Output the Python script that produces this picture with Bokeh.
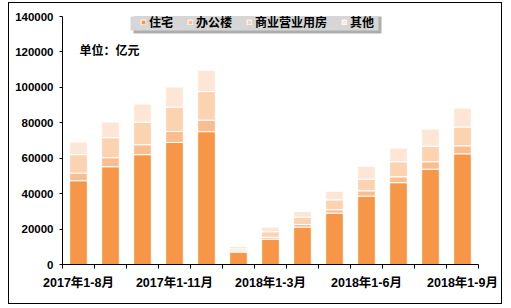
from bokeh.plotting import figure
from bokeh.models import (ColumnDataSource, Range1d, FixedTicker, BoxAnnotation, Label,
                          NumeralTickFormatter, InlineStyleSheet)
from bokeh.embed import file_html
from bokeh.resources import INLINE

categories = ["2017年1-8月", "2017年1-9月", "2017年1-10月", "2017年1-11月", "2017年1-12月",
              "2018年1-2月", "2018年1-3月", "2018年1-4月", "2018年1-5月", "2018年1-6月",
              "2018年1-7月", "2018年1-8月", "2018年1-9月"]
residential = [47300, 55200, 62000, 68900, 75000, 7000, 14300, 21100, 29000, 38600, 46200, 53800, 62500]
office = [4300, 5100, 5600, 6200, 6500, 700, 1100, 1500, 1900, 3000, 3300, 4200, 4500]
commercial = [10400, 11300, 12800, 13800, 16100, 1100, 3100, 4100, 5600, 6600, 8500, 8800, 10600]
other = [7100, 8800, 10200, 11300, 12000, 1400, 2600, 3200, 4900, 7200, 7700, 9700, 10700]
series_names = ["住宅", "办公楼", "商业营业用房", "其他"]
labeled_idx = [0, 3, 6, 9, 12]
y_ticks = [0, 20000, 40000, 60000, 80000, 100000, 120000, 140000]

colors = ["#F79646", "#F9BD90", "#FBD3B1", "#FDE6D6"]
FONT = "Liberation Sans, Noto Sans CJK SC"

xs = list(range(len(categories)))
source = ColumnDataSource(dict(x=xs, r=residential, o=office, c=commercial, t=other))

W, H = 511, 308
FL, FR, FT, FB = 62, 478, 16, 264

p = figure(width=W, height=H, output_backend="svg", toolbar_location=None,
           x_range=Range1d(-0.5, len(categories) - 0.5), y_range=Range1d(0, 140000),
           min_border_left=FL, min_border_right=W - FR, min_border_top=FT, min_border_bottom=H - FB)
p.background_fill_color = "white"
p.border_fill_color = "white"
p.outline_line_color = None
p.xgrid.visible = False
p.ygrid.visible = False

# outer chart-area border drawn as an overlay via CSS
p.stylesheets = [InlineStyleSheet(css="""
:host { position: relative; }
:host::after { content: ''; position: absolute; left: 8px; top: 2px; width: 492px; height: 300px;
  border: 1px solid black; pointer-events: none; box-sizing: content-box; }
""")]

# legend background & shadow
shadow = BoxAnnotation(left=133 - FL, right=381 - FL, bottom=FB - 33, top=FB - 12,
                       left_units="screen", right_units="screen", top_units="screen", bottom_units="screen",
                       fill_color="#8c8c8c", fill_alpha=0.7, line_color=None)
lbox = BoxAnnotation(left=130 - FL, right=378 - FL, bottom=FB - 30, top=FB - 9,
                     left_units="screen", right_units="screen", top_units="screen", bottom_units="screen",
                     fill_color="#D6D6D6", fill_alpha=1, line_color=None)
p.add_layout(shadow)
p.add_layout(lbox)

p.vbar_stack(["r", "o", "c", "t"], x="x", width=0.55, color=colors, source=source,
             legend_label=series_names, line_color="white", line_width=1)

# axes
p.yaxis.ticker = FixedTicker(ticks=y_ticks)
p.yaxis.formatter = NumeralTickFormatter(format="0")
p.yaxis.minor_tick_line_color = None
p.yaxis.major_tick_out = 3
p.yaxis.major_tick_in = 0
p.yaxis.major_label_standoff = 6
p.yaxis.major_label_text_font = FONT
p.yaxis.major_label_text_font_style = "bold"
p.yaxis.major_label_text_font_size = "11.5px"
p.yaxis.major_label_text_color = "black"
p.yaxis.axis_line_color = "black"
p.yaxis.major_tick_line_color = "black"

p.xaxis.ticker = FixedTicker(ticks=labeled_idx, minor_ticks=[i - 0.5 for i in range(len(categories) + 1)])
p.xaxis.major_label_overrides = {i: categories[i] for i in labeled_idx}
p.xaxis.major_tick_line_color = None
p.xaxis.minor_tick_line_color = "black"
p.xaxis.minor_tick_out = 4
p.xaxis.minor_tick_in = 0
p.xaxis.major_label_standoff = 5
p.xaxis.major_label_text_font = FONT
p.xaxis.major_label_text_font_style = "bold"
p.xaxis.major_label_text_font_size = "12.5px"
p.xaxis.major_label_text_color = "black"
p.xaxis.axis_line_color = "black"

# unit label
p.add_layout(Label(x=79 - FL, y=FB - 50, x_units="screen", y_units="screen", text="单位：亿元",
                   text_font=FONT, text_font_style="bold", text_font_size="12px",
                   text_baseline="middle", text_color="black"))

lg = p.legend[0]
lg.orientation = "horizontal"
lg.location = (144 - 4 - FL, FB - 30)
lg.background_fill_alpha = 0
lg.border_line_color = None
lg.padding = 4
lg.margin = 0
lg.glyph_width = 6
lg.glyph_height = 6
lg.label_standoff = 3
lg.spacing = 14
lg.label_text_font = FONT
lg.label_text_font_style = "bold"
lg.label_text_font_size = "12px"
lg.label_text_color = "black"

open("out.html", "w").write(file_html(p, INLINE))
